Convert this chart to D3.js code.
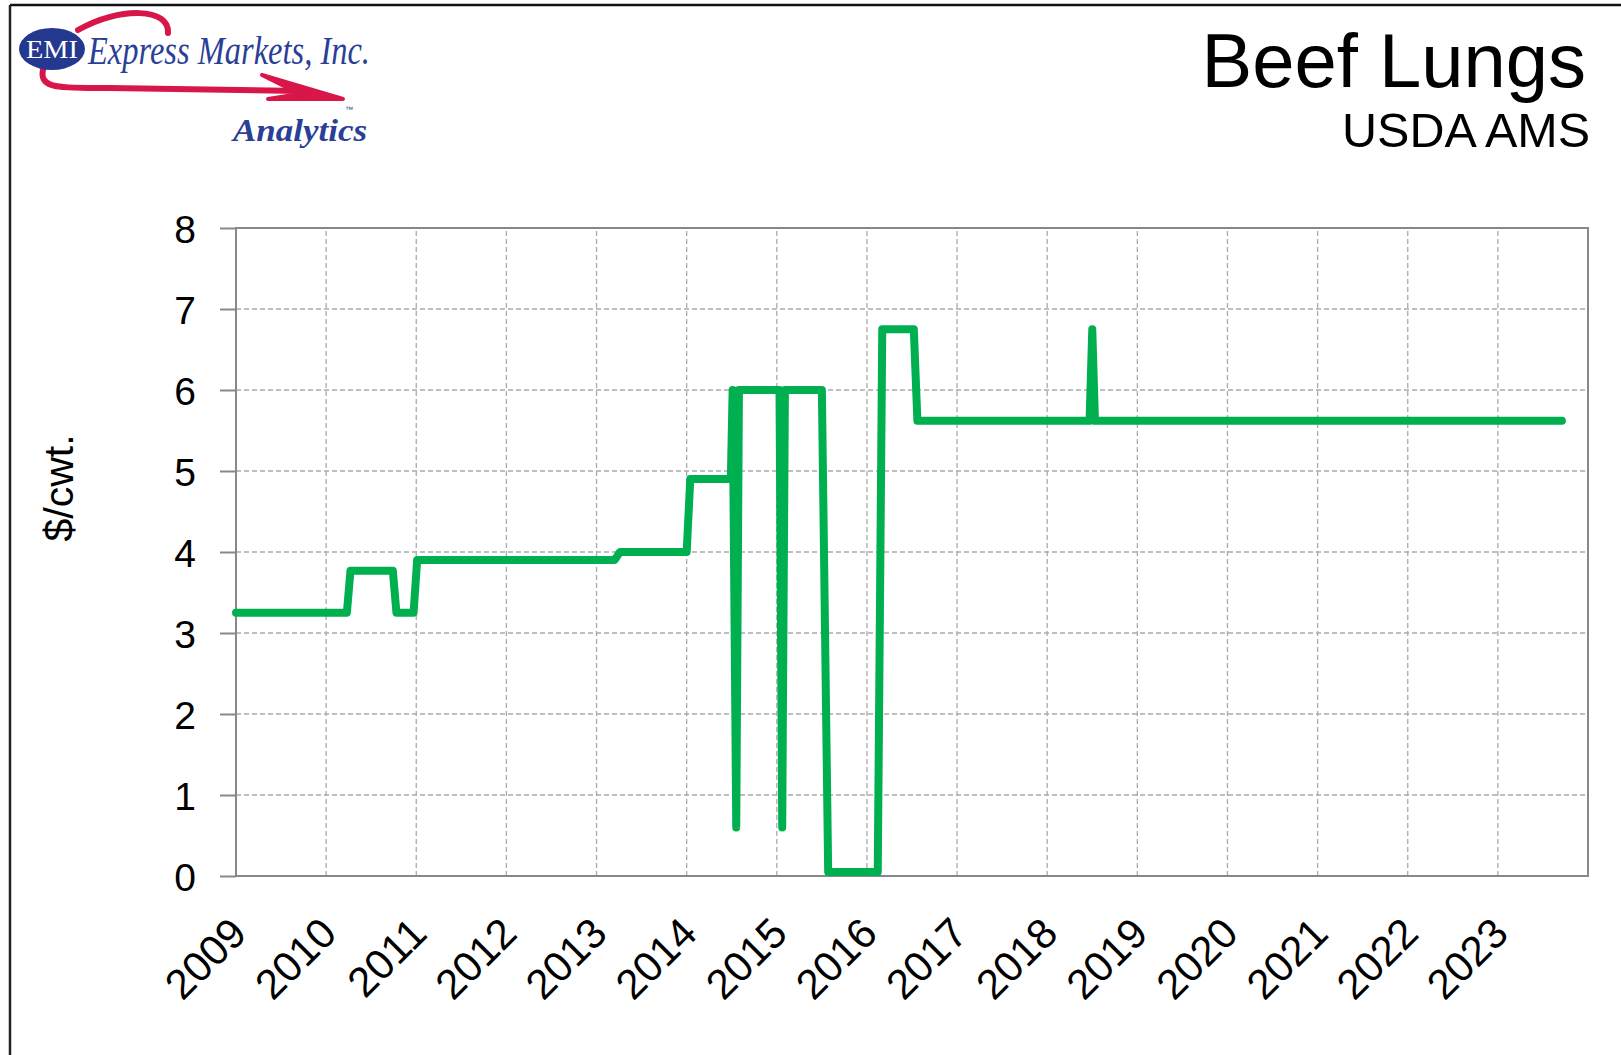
<!DOCTYPE html>
<html>
<head>
<meta charset="utf-8">
<script src="https://cdn.jsdelivr.net/npm/d3@7"></script>
<style>
  html, body { margin: 0; padding: 0; background: #fff; }
  svg { display: block; }
</style>
</head>
<body>
<div id="chart"></div>
<script>
// price series, decimal years and $/cwt
var priceDates = [2009.0, 2010.23, 2010.27, 2010.74, 2010.78, 2010.97, 2011.01, 2013.2, 2013.26,
  2014.0, 2014.04, 2014.49, 2014.51, 2014.55, 2014.58, 2015.03, 2015.06, 2015.09, 2015.5, 2015.57,
  2016.12, 2016.17, 2016.52, 2016.56, 2018.47, 2018.5, 2018.53, 2023.71];
var priceValues = [3.25, 3.25, 3.77, 3.77, 3.25, 3.25, 3.9, 3.9, 4.0,
  4.0, 4.9, 4.9, 6.0, 0.6, 6.0, 6.0, 0.6, 6.0, 6.0, 0.05,
  0.05, 6.75, 6.75, 5.62, 5.62, 6.75, 5.62, 5.62];
var yearTicks = d3.range(2009, 2024);
var valueTicks = [0, 1, 2, 3, 4, 5, 6, 7, 8];

var width = 1621, height = 1055;
var font = "'Liberation Sans', Arial, sans-serif";
var serif = "'Liberation Serif', 'Times New Roman', serif";

var svg = d3.select("#chart").append("svg")
  .attr("width", width)
  .attr("height", height);

svg.append("rect").attr("width", width).attr("height", height).attr("fill", "#fff");

// frame edges of the picture
svg.append("line").attr("x1", 10).attr("x2", width).attr("y1", 5).attr("y2", 5)
  .attr("stroke", "#111").attr("stroke-width", 2.5);
svg.append("line").attr("x1", 10).attr("x2", 10).attr("y1", 5).attr("y2", height)
  .attr("stroke", "#222").attr("stroke-width", 2.5);

var x = d3.scaleLinear().domain([2009, 2024]).range([236, 1588]);
var y = d3.scaleLinear().domain([0, 8]).range([876, 228]);

// gridlines
var grid = svg.append("g").attr("stroke", "#aaa").attr("stroke-width", 1.3)
  .attr("stroke-dasharray", "5,3");
grid.selectAll(".h").data(valueTicks.filter(function(d) { return d > 0 && d < 8; }))
  .enter().append("line")
  .attr("x1", x(2009)).attr("x2", x(2024))
  .attr("y1", function(d) { return y(d); }).attr("y2", function(d) { return y(d); });
grid.selectAll(".v").data(yearTicks.filter(function(d) { return d > 2009; }))
  .enter().append("line")
  .attr("y1", y(0)).attr("y2", y(8))
  .attr("x1", function(d) { return x(d); }).attr("x2", function(d) { return x(d); });

// plot frame
svg.append("rect")
  .attr("x", x(2009)).attr("y", y(8))
  .attr("width", x(2024) - x(2009)).attr("height", y(0) - y(8))
  .attr("fill", "none").attr("stroke", "#888").attr("stroke-width", 2);

// y axis
var yAxis = svg.append("g")
  .attr("transform", "translate(" + x(2009) + ",0)")
  .call(d3.axisLeft(y).tickValues(valueTicks).tickSize(16).tickPadding(24).tickFormat(d3.format("d")));
yAxis.select(".domain").remove();
yAxis.selectAll(".tick line").attr("stroke", "#888").attr("stroke-width", 2);
yAxis.selectAll(".tick text")
  .attr("font-family", font).attr("font-size", 39).attr("fill", "#000")
  .attr("dy", "0.36em");

// x labels, rotated
svg.append("g").selectAll("text").data(yearTicks).enter().append("text")
  .attr("transform", function(d) { return "translate(" + (x(d) + 2) + ",925) rotate(-45)"; })
  .attr("text-anchor", "end")
  .attr("dy", "0.36em")
  .attr("font-family", font).attr("font-size", 42).attr("fill", "#000")
  .text(function(d) { return d; });

// y title
svg.append("text")
  .attr("transform", "translate(73,488) rotate(-90)")
  .attr("text-anchor", "middle")
  .attr("font-family", font).attr("font-size", 41).attr("fill", "#000")
  .text("$/cwt.");

// series
var series = priceDates.map(function(d, i) { return [d, priceValues[i]]; });
var line = d3.line()
  .x(function(d) { return x(d[0]); })
  .y(function(d) { return y(d[1]); });
svg.append("path")
  .datum(series)
  .attr("d", line)
  .attr("fill", "none")
  .attr("stroke", "#00b050")
  .attr("stroke-width", 8)
  .attr("stroke-linejoin", "round")
  .attr("stroke-linecap", "round");

// titles
svg.append("text").attr("x", 1586).attr("y", 87).attr("text-anchor", "end")
  .attr("font-family", font).attr("font-size", 76).attr("fill", "#000")
  .text("Beef Lungs");
svg.append("text").attr("x", 1590).attr("y", 147).attr("text-anchor", "end")
  .attr("font-family", font).attr("font-size", 48.5).attr("fill", "#000")
  .text("USDA AMS");

// logo
var logo = svg.append("g");
logo.append("path")
  .attr("d", "M168,33 C170,8 120,6 78,30")
  .attr("fill", "none").attr("stroke", "#d8164a").attr("stroke-width", 6).attr("stroke-linecap", "round");
logo.append("path")
  .attr("d", "M44,66 C36,90 60,88 110,88 L300,91")
  .attr("fill", "none").attr("stroke", "#d8164a").attr("stroke-width", 6).attr("stroke-linecap", "round");
logo.append("path")
  .attr("d", "M262,75 L343,99 L268,99 L300,94 Z")
  .attr("fill", "#d8164a").attr("stroke", "#d8164a").attr("stroke-width", 4).attr("stroke-linejoin", "round");
logo.append("ellipse")
  .attr("cx", 52).attr("cy", 49).attr("rx", 33).attr("ry", 21)
  .attr("fill", "#24388f");
logo.append("text").attr("x", 52).attr("y", 58).attr("text-anchor", "middle")
  .attr("font-family", serif).attr("font-size", 26).attr("fill", "#fff")
  .attr("textLength", 52).attr("lengthAdjust", "spacingAndGlyphs")
  .text("EMI");
logo.append("text").attr("x", 88).attr("y", 64)
  .attr("font-family", serif).attr("font-style", "italic").attr("font-size", 40).attr("fill", "#2a3f96")
  .attr("textLength", 282).attr("lengthAdjust", "spacingAndGlyphs")
  .text("Express Markets, Inc.");
logo.append("text").attr("x", 233).attr("y", 141)
  .attr("font-family", serif).attr("font-style", "italic").attr("font-weight", "bold")
  .attr("font-size", 32).attr("fill", "#2a3f96")
  .attr("textLength", 134).attr("lengthAdjust", "spacingAndGlyphs")
  .text("Analytics");
logo.append("text").attr("x", 345).attr("y", 112)
  .attr("font-family", font).attr("font-size", 8).attr("fill", "#2a3f96")
  .text("™");
</script>
</body>
</html>
